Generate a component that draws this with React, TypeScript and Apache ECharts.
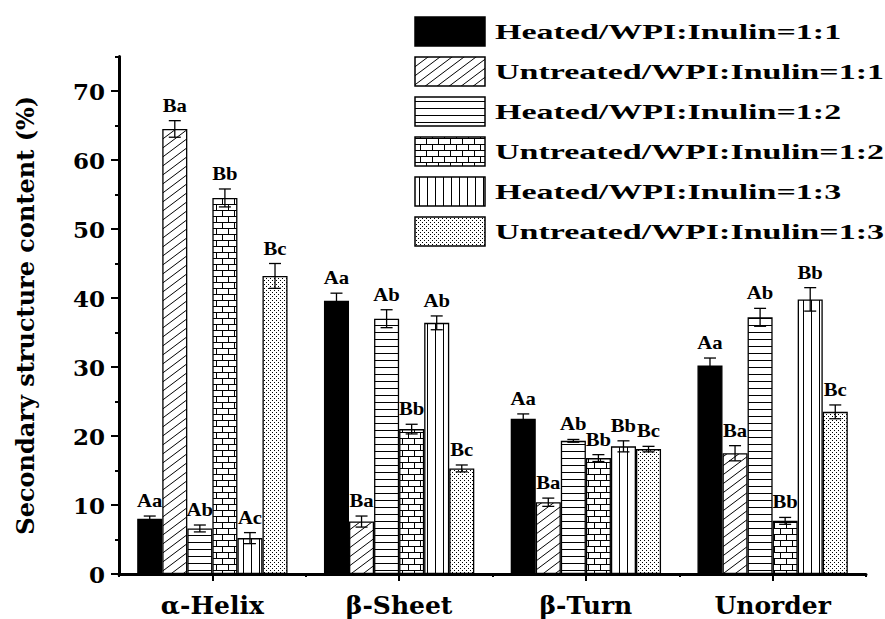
import React, { useEffect, useRef } from 'react';
import * as echarts from 'echarts';

// Secondary structure categories and treatment groups
const categories = ['α-Helix', 'β-Sheet', 'β-Turn', 'Unorder'];
const seriesNames = [
  'Heated/WPI:Inulin=1:1',
  'Untreated/WPI:Inulin=1:1',
  'Heated/WPI:Inulin=1:2',
  'Untreated/WPI:Inulin=1:2',
  'Heated/WPI:Inulin=1:3',
  'Untreated/WPI:Inulin=1:3',
];

// Mean content (%) per category
const heated11 = [8.0, 39.6, 22.5, 30.2];
const untreated11 = [64.5, 7.6, 10.4, 17.5];
const heated12 = [6.6, 37.0, 19.3, 37.2];
const untreated12 = [54.5, 21.0, 16.8, 7.7];
const heated13 = [5.2, 36.4, 18.5, 39.8];
const untreated13 = [43.2, 15.3, 18.1, 23.5];

// Standard deviations
const heated11Err = [0.4, 1.1, 0.7, 1.1];
const untreated11Err = [1.2, 0.8, 0.6, 1.1];
const heated12Err = [0.5, 1.3, 0.2, 1.3];
const untreated12Err = [1.3, 0.7, 0.5, 0.5];
const heated13Err = [0.8, 1.0, 0.8, 1.7];
const untreated13Err = [1.8, 0.5, 0.4, 1.0];

// Significance letters
const heated11Sig = ['Aa', 'Aa', 'Aa', 'Aa'];
const untreated11Sig = ['Ba', 'Ba', 'Ba', 'Ba'];
const heated12Sig = ['Ab', 'Ab', 'Ab', 'Ab'];
const untreated12Sig = ['Bb', 'Bb', 'Bb', 'Bb'];
const heated13Sig = ['Ac', 'Ab', 'Bb', 'Bb'];
const untreated13Sig = ['Bc', 'Bc', 'Bc', 'Bc'];

const yTickValues = [0, 10, 20, 30, 40, 50, 60, 70];
const yMinorValues = [5, 15, 25, 35, 45, 55, 65, 75];

const values = [heated11, untreated11, heated12, untreated12, heated13, untreated13];
const errors = [heated11Err, untreated11Err, heated12Err, untreated12Err, heated13Err, untreated13Err];
const letters = [heated11Sig, untreated11Sig, heated12Sig, untreated12Sig, heated13Sig, untreated13Sig];

const WIDE_SERIF = "'DejaVu Serif', serif";
const TIMES = "'Liberation Serif', 'Times New Roman', serif";
const CATEGORY_GAP = 0.195;

type Kind = 'solid' | 'diagonal' | 'horizontal' | 'brick' | 'vertical' | 'dots';
const kinds: Kind[] = ['solid', 'diagonal', 'horizontal', 'brick', 'vertical', 'dots'];

function makeFill(kind: Kind): any {
  if (kind === 'solid') return '#000000';
  const c = document.createElement('canvas');
  const ctx = c.getContext('2d')!;
  const size: Record<string, [number, number]> = {
    diagonal: [12, 9],
    horizontal: [4, 7],
    brick: [12, 12],
    vertical: [8, 4],
    dots: [4, 4],
  };
  const [w, h] = size[kind];
  c.width = w;
  c.height = h;
  ctx.fillStyle = '#ffffff';
  ctx.fillRect(0, 0, w, h);
  ctx.fillStyle = '#000000';
  ctx.strokeStyle = '#000000';
  if (kind === 'diagonal') {
    ctx.lineWidth = 1;
    for (const dx of [-w, 0, w]) {
      ctx.beginPath();
      ctx.moveTo(dx - 2, h + 1.5);
      ctx.lineTo(dx + w + 2, -1.5);
      ctx.stroke();
    }
  } else if (kind === 'horizontal') {
    ctx.fillRect(0, 3, w, 1);
  } else if (kind === 'vertical') {
    ctx.fillRect(3, 0, 1, h);
  } else if (kind === 'brick') {
    ctx.fillRect(0, 0, w, 1);
    ctx.fillRect(0, 6, w, 1);
    ctx.fillRect(0, 0, 1, 6);
    ctx.fillRect(6, 6, 1, 6);
  } else if (kind === 'dots') {
    ctx.fillRect(0, 0, 1, 1);
    ctx.fillRect(2, 2, 1, 1);
  }
  return { image: c, repeat: 'repeat' };
}

export default function App() {
  const ref = useRef<HTMLDivElement>(null);

  useEffect(() => {
    if (!ref.current) return;
    const chart = echarts.init(ref.current, undefined, { renderer: 'svg' });
    const fills = kinds.map(makeFill);

    const barSeries = values.map((data, i) => ({
      type: 'bar',
      name: seriesNames[i],
      data,
      barGap: '0%',
      barCategoryGap: `${CATEGORY_GAP * 100}%`,
      silent: true,
      z: 2,
      itemStyle: { color: fills[i], borderColor: '#000', borderWidth: 1.3 },
    }));

    const errSeries = values.map((data, i) => ({
      type: 'custom',
      name: seriesNames[i] + ' SD',
      silent: true,
      z: 5,
      data: data.map((v, j) => [j, v, errors[i][j]]),
      renderItem: (params: any, api: any) => {
        const ci = api.value(0);
        const v = api.value(1);
        const e = api.value(2);
        const bandW = api.size([1, 0])[0];
        const barW = (bandW * (1 - CATEGORY_GAP)) / 6;
        const cx = api.coord([ci, 0])[0] + (i - 2.5) * barW;
        const yTop = api.coord([ci, v + e])[1];
        const yBot = api.coord([ci, v - e])[1];
        const cap = 6;
        const ls = { stroke: '#000', lineWidth: 1.3 };
        return {
          type: 'group',
          children: [
            { type: 'line', shape: { x1: cx, y1: yTop, x2: cx, y2: yBot }, style: ls },
            { type: 'line', shape: { x1: cx - cap, y1: yTop, x2: cx + cap, y2: yTop }, style: ls },
            { type: 'line', shape: { x1: cx - cap, y1: yBot, x2: cx + cap, y2: yBot }, style: ls },
            {
              type: 'text',
              x: cx,
              y: yTop - 6,
              scaleX: 1.15,
              style: {
                text: letters[i][params.dataIndex],
                font: `bold 18px ${TIMES}`,
                fill: '#000',
                align: 'center',
                verticalAlign: 'bottom',
                textAlign: 'center',
                textVerticalAlign: 'bottom',
              },
            },
          ],
        };
      },
    }));

    const legendGraphics: any[] = [];
    seriesNames.forEach((name, i) => {
      legendGraphics.push({
        type: 'rect',
        shape: { x: 415, y: 17 + 40 * i, width: 70, height: 29 },
        style: { fill: fills[i], stroke: '#000', lineWidth: 1.5 },
      });
      legendGraphics.push({
        type: 'text',
        x: 495,
        y: 32 + 40 * i,
        scaleX: 1.62,
        style: {
          text: name,
          font: `bold 21px ${TIMES}`,
          fill: '#000',
          align: 'left',
          verticalAlign: 'middle',
          textAlign: 'left',
          textVerticalAlign: 'middle',
        },
      });
    });

    chart.setOption({
      animation: false,
      backgroundColor: '#ffffff',
      grid: { left: 119, right: 19, top: 56.5, bottom: 45 },
      xAxis: [
        {
          type: 'category',
          data: categories,
          position: 'bottom',
          axisLine: { show: true, lineStyle: { color: '#000', width: 3 } },
          axisTick: { show: true, alignWithLabel: true, length: 7, lineStyle: { color: '#000', width: 2 } },
          axisLabel: { color: '#000', fontFamily: WIDE_SERIF, fontWeight: 'bold', fontSize: 25, margin: 19 },
          splitLine: { show: false },
        },
        {
          type: 'category',
          data: categories,
          position: 'bottom',
          axisLine: { show: false },
          axisTick: { show: true, alignWithLabel: false, length: 3, lineStyle: { color: '#000', width: 2 } },
          axisLabel: { show: false },
          splitLine: { show: false },
        },
      ],
      yAxis: [
        {
          type: 'value',
          min: 0,
          max: 75,
          interval: 10,
          position: 'left',
          name: 'Secondary structure content (%)',
          nameLocation: 'middle',
          nameRotate: 90,
          nameGap: 82,
          nameTextStyle: { color: '#000', fontFamily: WIDE_SERIF, fontWeight: 'bold', fontSize: 24 },
          axisLine: { show: true, lineStyle: { color: '#000', width: 3 } },
          axisTick: { show: true, length: 8, customValues: yTickValues, lineStyle: { color: '#000', width: 2 } },
          axisLabel: {
            color: '#000',
            fontFamily: WIDE_SERIF,
            fontWeight: 'bold',
            fontSize: 23,
            margin: 14,
            customValues: yTickValues,
          },
          splitLine: { show: false },
        },
        {
          type: 'value',
          min: 0,
          max: 75,
          interval: 5,
          position: 'left',
          axisLine: { show: false },
          axisTick: { show: true, length: 4, customValues: yMinorValues, lineStyle: { color: '#000', width: 2 } },
          axisLabel: { show: false },
          splitLine: { show: false },
        },
      ],
      series: [...barSeries, ...errSeries],
      graphic: legendGraphics,
    });

    return () => chart.dispose();
  }, []);

  return (
    <div
      ref={ref}
      style={{ position: 'fixed', left: 0, top: 0, width: 885, height: 619, background: '#fff' }}
    />
  );
}
